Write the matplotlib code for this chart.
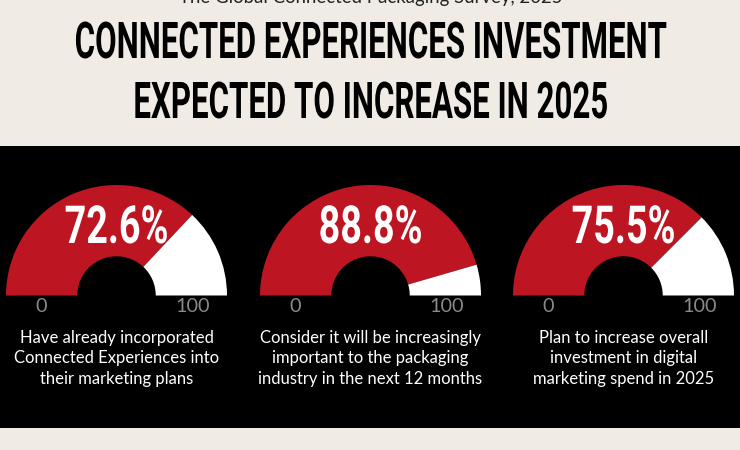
import matplotlib
matplotlib.use("Agg")
import matplotlib.pyplot as plt
from matplotlib.patches import Rectangle
from matplotlib.patheffects import AbstractPathEffect
from matplotlib.transforms import Affine2D

plt.rcParams["font.family"] = ["Roboto", "DejaVu Sans"]

CREAM = "#f0ebe5"
RED = "#bd1622"

header = "The Global Connected Packaging Survey, 2025"
title_lines = ["CONNECTED EXPERIENCES INVESTMENT", "EXPECTED TO INCREASE IN 2025"]
values = [72.6, 88.8, 75.5]
# the drawn wedge edge sits a bit past the printed number in the picture
gauge_fill = [74.0, 91.0, 75.0]
captions = [
    "Have already incorporated\nConnected Experiences into\ntheir marketing plans",
    "Consider it will be increasingly\nimportant to the packaging\nindustry in the next 12 months",
    "Plan to increase overall\ninvestment in digital\nmarketing spend in 2025",
]
gauge_lefts = [6, 260, 513]

HEIGHT = 450


class Stretch(AbstractPathEffect):
    # no condensed display font here, so make the glyphs taller from the baseline
    def __init__(self, sy, baseline):
        super().__init__()
        self.sy = sy
        self.baseline = baseline

    def draw_path(self, renderer, gc, tpath, affine, rgbFace=None):
        stretch = Affine2D().translate(0, -self.baseline).scale(1, self.sy).translate(0, self.baseline)
        renderer.draw_path(gc, tpath, affine + stretch, rgbFace)


def tall_text(ax, x, y, s, sy, **kwargs):
    return ax.text(x, y, s, ha="center", va="baseline", fontweight="bold",
                   path_effects=[Stretch(sy, HEIGHT - y)], **kwargs)


fig = plt.figure(figsize=(7.4, 4.5), dpi=100, facecolor=CREAM)
bg = fig.add_axes([0, 0, 1, 1])
bg.set_xlim(0, 740)
bg.set_ylim(HEIGHT, 0)
bg.axis("off")
bg.add_patch(Rectangle((0, 146), 740, 282, color="black", lw=0))

bg.text(371, 3, header, ha="center", va="baseline", fontsize=13.4, family="Lato", color="#222222")
for text, y in zip(title_lines, [58, 118]):
    tall_text(bg, 371, y, text, 1.62, fontsize=22.5, color="black")

gauge_w = 221
gauge_h = 110.5
base_y = 295.5
for left, fill, caption in zip(gauge_lefts, gauge_fill, captions):
    # the hidden third wedge is the lower half, so 0 is on the left and 100 on the right
    ax = fig.add_axes([left / 740, 1 - base_y / HEIGHT, gauge_w / 740, gauge_h / HEIGHT])
    ax.pie([fill, 100 - fill, 100], colors=[RED, "white", "none"], startangle=180,
           counterclock=False, radius=1, wedgeprops={"width": 0.645, "linewidth": 0})
    ax.set_xlim(-1, 1)
    ax.set_ylim(0, 1)
    ax.set_aspect("auto")
    cx = left + gauge_w / 2
    bg.text(left + 35.5, 307, "0", ha="center", va="center", fontsize=14.3, family="Lato", color="#8a8a8a")
    bg.text(left + 186.5, 307, "100", ha="center", va="center", fontsize=14.3, family="Lato", color="#8a8a8a")
    bg.text(cx, 358.5, caption, ha="center", va="center", fontsize=12.0, color="white",
            family="Lato", linespacing=1.35)

# percentages go on top of the gauge axes
top = fig.add_axes([0, 0, 1, 1])
top.set_xlim(0, 740)
top.set_ylim(HEIGHT, 0)
top.axis("off")
for left, value in zip(gauge_lefts, values):
    tall_text(top, left + gauge_w / 2, 243, f"{value}%", 1.389, fontsize=27.2, color="white")

fig.savefig("out.png", dpi=100, facecolor=CREAM)
